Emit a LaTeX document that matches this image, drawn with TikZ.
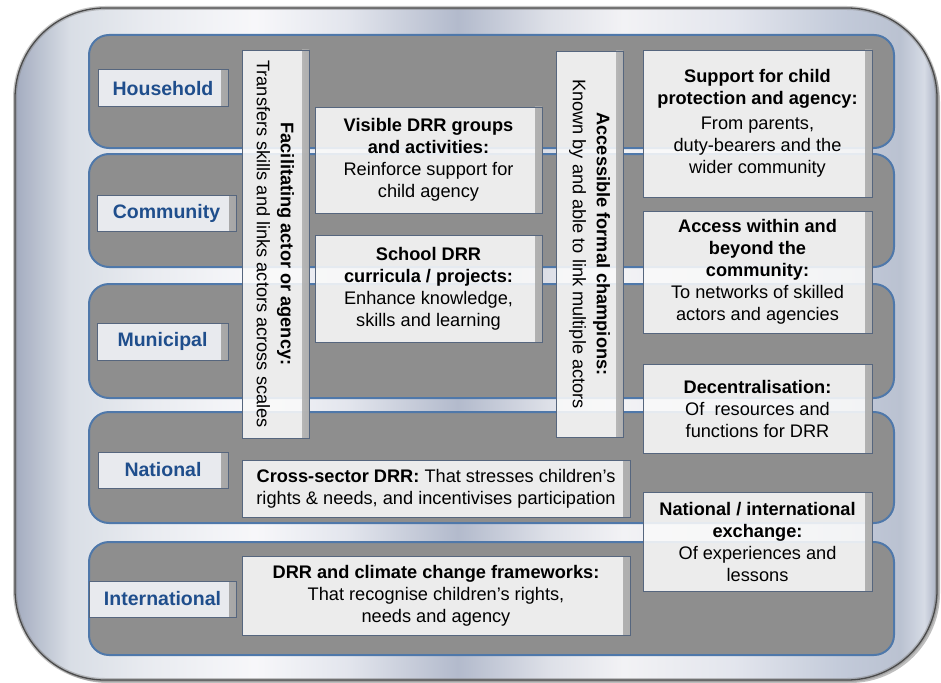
\documentclass[tikz,border=0pt]{standalone}
\usepackage{fontspec}
\setmainfont{Liberation Sans}
\usetikzlibrary{calc}
\definecolor{bandfill}{HTML}{8E8E8E}
\definecolor{bandline}{HTML}{4F78AA}
\definecolor{lbltext}{HTML}{1F4E8C}
\definecolor{lblfill}{HTML}{E8EAEE}
\definecolor{boxline}{HTML}{56667E}
\definecolor{boxfill}{HTML}{FAFAFA}
\definecolor{outlinec}{HTML}{4A4A4A}
\definecolor{edgeshade}{HTML}{A6A6A6}
\pgfdeclarehorizontalshading{silver}{100bp}{
 rgb(0bp)=(0.64,0.67,0.75);
 rgb(25bp)=(0.64,0.67,0.75);
 rgb(26bp)=(0.71,0.74,0.80);
 rgb(28bp)=(0.85,0.87,0.90);
 rgb(32bp)=(0.91,0.92,0.94);
 rgb(38bp)=(0.97,0.97,0.98);
 rgb(43bp)=(0.89,0.90,0.93);
 rgb(49bp)=(0.70,0.73,0.80);
 rgb(54bp)=(0.87,0.88,0.91);
 rgb(58bp)=(0.95,0.95,0.96);
 rgb(64bp)=(0.89,0.90,0.93);
 rgb(70bp)=(0.76,0.79,0.85);
 rgb(73bp)=(0.73,0.76,0.82);
 rgb(74.3bp)=(0.84,0.86,0.90);
 rgb(75bp)=(0.66,0.69,0.76);
 rgb(100bp)=(0.66,0.69,0.76)}
\tikzset{
  band/.style={fill=bandfill, draw=bandline, line width=2pt, rounded corners=20pt, inner sep=0pt},
  edgeshading/.style={path picture={\shade[left color=#1, right color=edgeshade]
      ([xshift=-7pt]path picture bounding box.north east) rectangle (path picture bounding box.south east);}},
  lbl/.style={draw=boxline, line width=1pt, fill=lblfill, text=lbltext, inner sep=0pt,
      font=\fontsize{19.5}{22}\selectfont\bfseries, edgeshading=lblfill},
  box/.style={draw=boxline, line width=0.9pt, fill=boxfill, fill opacity=0.88, text opacity=1,
      text=black, inner sep=0pt, align=center, font=\fontsize{18.2}{22}\selectfont, edgeshading=boxfill},
  vtext/.style={rotate=-90, align=center, text=black, inner sep=0pt, font=\fontsize{18.2}{24}\selectfont}
}
\begin{document}
\begin{tikzpicture}[x=1pt,y=-1pt]
\useasboundingbox (0,0) rectangle (941,682);
% outer frame
\fill[black, opacity=0.25, rounded corners=90pt] (18,12) rectangle (940,683);
\shade[shading=silver, rounded corners=90pt] (15,8) rectangle (937,680);
\draw[gray, opacity=0.45, line width=4pt, rounded corners=90pt] (15,8) rectangle (937,680);
\draw[outlinec, line width=1.3pt, rounded corners=90pt] (15,8) rectangle (937,680);
% bands
\node[band, minimum width=805, minimum height=113] (bandH) at (491.5,91.5) {};
\node[band, minimum width=805, minimum height=113] (bandC) at (491.5,210.5) {};
\node[band, minimum width=805, minimum height=114] (bandM) at (491.5,341) {};
\node[band, minimum width=805, minimum height=111] (bandN) at (491.5,467.5) {};
\node[band, minimum width=805, minimum height=113] (bandI) at (491.5,598.5) {};
% scale labels
\node[lbl, minimum width=130, minimum height=37] (hhL) at (163,88.5) {Household};
\node[lbl, minimum width=139, minimum height=36] (comL) at (166.5,213) {Community};
\node[lbl, minimum width=131, minimum height=37] (munL) at (162.5,341.5) {Municipal};
\node[lbl, minimum width=130, minimum height=36] (natL) at (163,470) {National};
\node[lbl, minimum width=147, minimum height=36] (intL) at (162.5,599) {International};
% vertical boxes
\node[box, minimum width=67, minimum height=388] (fac) at (275.5,244) {};
\node[vtext] (facT) at (fac.center) {\textbf{Facilitating actor or agency:}\\Transfers skills and links actors across scales};
\node[box, minimum width=67, minimum height=386] (acc) at (589.5,244) {};
\node[vtext] (accT) at (acc.center) {\textbf{Accessible formal champions:}\\Known by and able to link multiple actors};
% middle boxes
\node[box, minimum width=227, minimum height=106] (vis) at (428.5,160)
  {\textbf{Visible DRR groups}\\\textbf{and activities:}\\Reinforce support for\\child agency};
\node[box, minimum width=227, minimum height=107] (sch) at (428.5,288.5)
  {\textbf{School DRR}\\\textbf{curricula / projects:}\\Enhance knowledge,\\skills and learning};
% right boxes
\node[box, minimum width=229, minimum height=147] (sup) at (757.5,123.5)
  {\textbf{Support for child}\\\textbf{protection and agency:}\\[3pt]From parents,\\duty-bearers and the\\wider community};
\node[box, minimum width=229, minimum height=122] (acs) at (757.5,272)
  {\textbf{Access within and}\\\textbf{beyond the}\\\textbf{community:}\\To networks of skilled\\actors and agencies};
\node[box, minimum width=229, minimum height=89] (dec) at (757.5,408.5)
  {\textbf{Decentralisation:}\\Of\ \ resources and\\functions for DRR};
\node[box, minimum width=229, minimum height=99] (nie) at (757.5,541.5)
  {\textbf{National / international}\\\textbf{exchange:}\\Of experiences and\\lessons};
% bottom boxes
\node[box, minimum width=388, minimum height=57] (crs) at (436,488.5)
  {\textbf{Cross-sector DRR:} That stresses children’s\\rights \& needs, and incentivises participation};
\node[box, minimum width=388, minimum height=79] (clm) at (436,595.5)
  {\textbf{DRR and climate change frameworks:}\\That recognise children’s rights,\\needs and agency};
\end{tikzpicture}
\end{document}
